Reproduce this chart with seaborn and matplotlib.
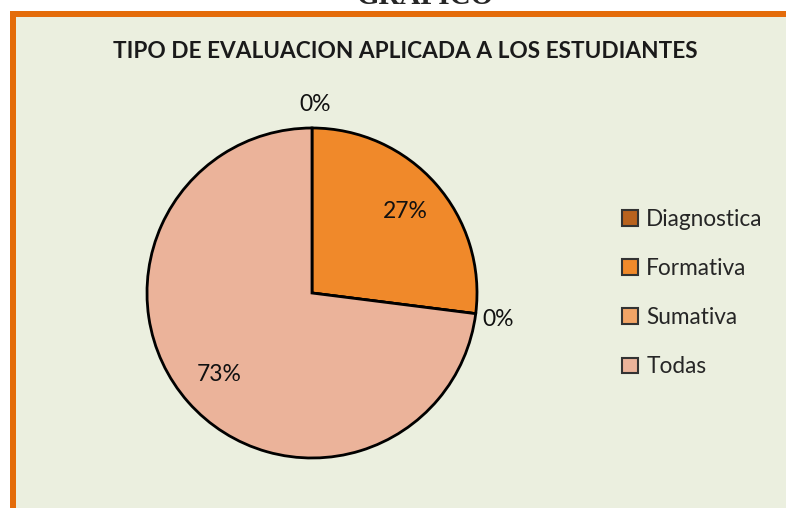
import numpy as np
import matplotlib.pyplot as plt
import seaborn as sns
from matplotlib.patches import Rectangle, Patch

# datos del grafico
categorias = ['Diagnostica', 'Formativa', 'Sumativa', 'Todas']
porcentajes = [0, 27, 0, 73]
colores = ['#B8621E', '#F0892A', '#F2A466', '#EBB39A']
titulo = 'TIPO DE EVALUACION APLICADA A LOS ESTUDIANTES'

sns.set_style('white')
plt.rcParams['font.family'] = ['Lato', 'DejaVu Sans']

W, H = 786, 508
fig = plt.figure(figsize=(W / 100, H / 100), dpi=100)
fig.patch.set_facecolor('white')

# marco naranja y fondo del area del grafico
fig.patches.append(Rectangle((10 / W, 0), 1, 1 - 11 / H, transform=fig.transFigure,
                             facecolor='#E46C0A', edgecolor='none', zorder=-10))
fig.patches.append(Rectangle((16 / W, 0), 1, 1 - 17 / H, transform=fig.transFigure,
                             facecolor='#EBEFDF', edgecolor='none', zorder=-9))

# titulo superior cortado
fig.text(425 / W, 1 + 4 / H, 'GRAFICO', ha='center', va='center', fontsize=21,
         fontweight='bold', family='Liberation Serif')

fig.text(405 / W, 1 - 52 / H, titulo, ha='center', va='center', fontsize=16.3,
         fontweight='bold', color='#1a1a1a')

cx, cy, r = 312, 293, 165
ax = fig.add_axes([(cx - r) / W, (H - cy - r) / H, 2 * r / W, 2 * r / H])
ax.set_facecolor('none')

wedges, _ = ax.pie(porcentajes, colors=colores, startangle=90, counterclock=False,
                   wedgeprops=dict(edgecolor='black', linewidth=2))
ax.set_xlim(-1, 1)
ax.set_ylim(-1, 1)
ax.axis('off')

total = sum(porcentajes)
for w, v in zip(wedges, porcentajes):
    ang = np.deg2rad((w.theta1 + w.theta2) / 2)
    d = 0.75 if v > 0 else 1.14
    if v == 0:
        ang = np.deg2rad(w.theta1 - 1)
    ax.text(d * np.cos(ang), d * np.sin(ang), f'{round(100 * v / total)}%',
            ha='center', va='center', fontsize=16.5, color='#111111', clip_on=False)

handles = [Patch(facecolor=c, edgecolor='#333333', linewidth=1.5) for c in colores]
fig.legend(handles, categorias, loc='center left', bbox_to_anchor=(602 / W, 1 - 293 / H),
           frameon=False, fontsize=16.3, handlelength=0.7, handleheight=0.7,
           handletextpad=0.35, labelspacing=1.25)

fig.savefig('out.png', dpi=100, facecolor=fig.get_facecolor())
